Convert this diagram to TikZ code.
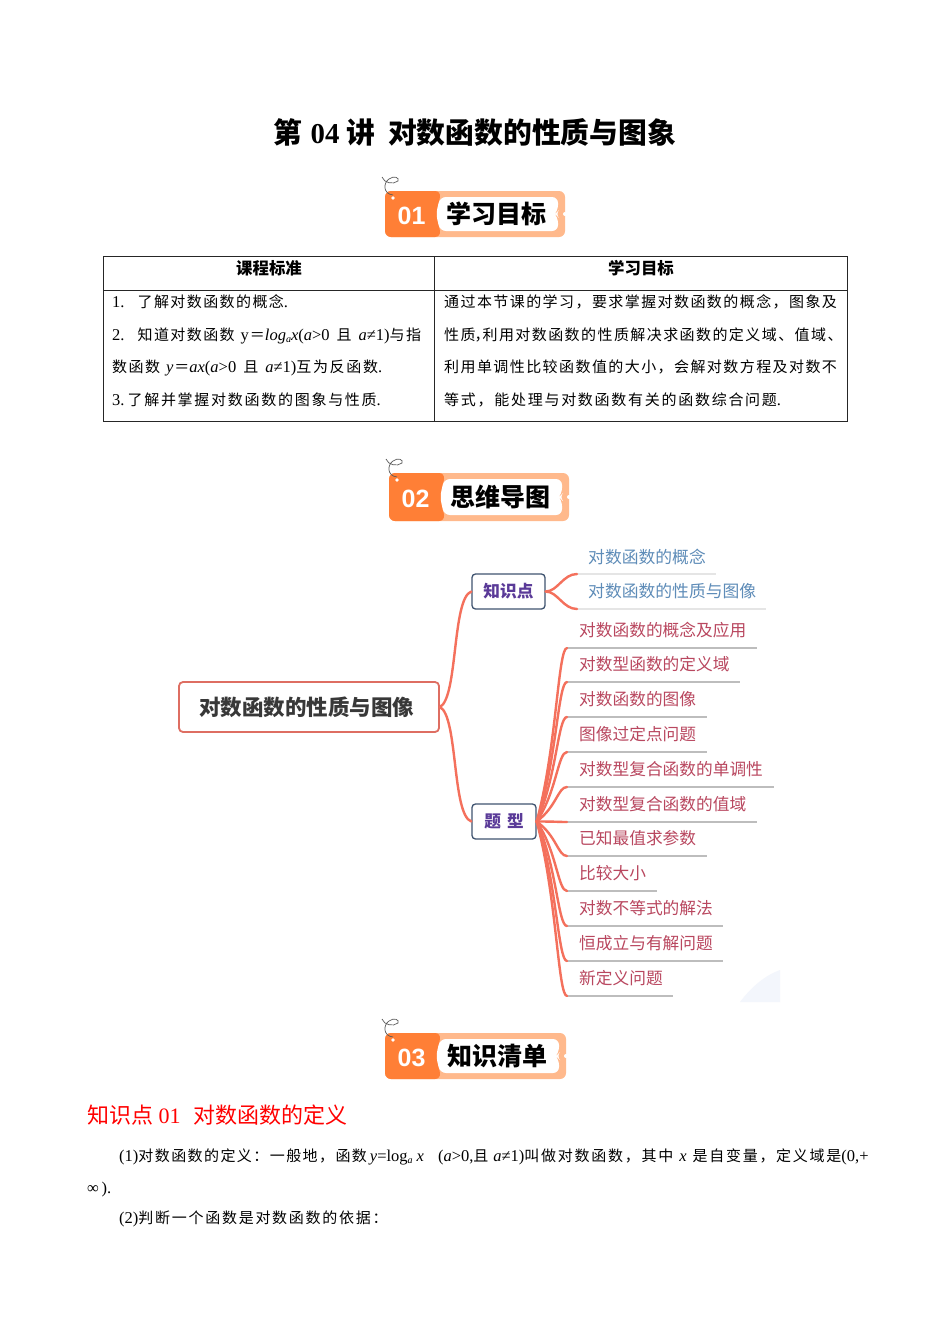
\documentclass[tikz,border=0pt]{standalone}
\usepackage{fontspec}
\setmainfont{Liberation Serif}
\newfontfamily\cjf[LetterSpace=9.5]{Noto Sans CJK SC}
\newfontfamily\cjw[LetterSpace=11.5]{Noto Sans CJK SC}
\newfontfamily\cjn{Noto Sans CJK SC}
\newfontfamily\sansb{Liberation Sans}
\usetikzlibrary{calc}
\definecolor{bandark}{HTML}{FF7F36}
\definecolor{banlight}{HTML}{FFB98C}
\definecolor{branch}{HTML}{F4705C}
\definecolor{rootline}{HTML}{DE6E62}
\definecolor{greyline}{HTML}{BDBDBD}
\definecolor{leafblue}{HTML}{5E8CB8}
\definecolor{typered}{HTML}{B9475F}
\definecolor{boxpurple}{HTML}{5A3A98}
\definecolor{boxline}{HTML}{3F5470}
\definecolor{wash}{HTML}{F3F6FC}
\newcommand{\fs}[1]{\fontsize{#1}{#1}\selectfont}
\newcommand{\cz}[1]{{\cjf\fs{15}#1}}
\newcommand{\cw}[1]{{\cjw\fs{15}#1}}
\newcommand{\sbs}[1]{\raisebox{-2pt}{\fs{10}\textit{#1}}}
\newcommand{\banner}[7]{%
  % #1 left, #2 top, #3 width, #4 height, #5 number, #6 title, #7 name
  \begin{scope}[shift={(#1,#2)}]
    \fill[banlight, rounded corners=6pt] (0,0) rectangle (#3,#4);
    \fill[bandark, rounded corners=6pt] (0,0) -- (56,0) -- (52,{0.5*#4}) -- (56,#4) -- (0,#4) -- cycle;
    \fill[white] (8,7) circle (1.8);
    \fill[white, rounded corners=6pt] (55,6) -- ({#3-7},6) -- ({#3-7},{0.5*#4-3}) -- ({#3-10},{0.5*#4}) -- ({#3-7},{0.5*#4+3}) -- ({#3-7},{#4-6}) -- (55,{#4-6}) -- (51,{0.5*#4}) -- cycle;
    \fill[white] (#3,{0.5*#4}) circle (2);
    \draw[scribble] (-3,-14) .. controls (-1,-8) and (8,-6) .. (13,-10) .. controls (15,-13) and (9,-16) .. (4,-12) .. controls (-2,-8) and (-2,3) .. (8,4);
    \node[bannum] (#7num) at (26.5,{0.5*#4+1.5}) {#5};
    \node[bantitle] (#7txt) at ({0.5*#3+21.5},{0.5*#4}) {#6};
  \end{scope}}
\tikzset{
  txt/.style={anchor=base west, inner sep=0pt, font=\fs{16.5}, text=black},
  bannum/.style={inner sep=0pt, text=white, font=\sansb\bfseries\fs{25}},
  bantitle/.style={inner sep=0pt, text=black, font=\cjn\bfseries\fs{25}},
  scribble/.style={draw=black!65, line width=0.7pt},
  tabline/.style={draw=black!85, line width=0.9pt},
  headcell/.style={inner sep=0pt, font=\cjn\bfseries\fs{16.4}},
  rootbox/.style={draw=rootline, line width=1.8pt, rounded corners=4pt, minimum width=260pt, minimum height=50pt, inner sep=0pt, text=black!78, font=\cjn\bfseries\fs{21.5}},
  catbox/.style={draw=boxline, line width=1.3pt, rounded corners=3.5pt, minimum height=35pt, inner sep=0pt, text=boxpurple, font=\cjn\bfseries\fs{16.7}},
  leafa/.style={anchor=west, inner sep=0pt, text=leafblue, font=\cjn\fs{16.8}},
  leafb/.style={anchor=west, inner sep=0pt, text=typered, font=\cjn\fs{16.7}},
  branchline/.style={draw=branch, line width=2.4pt, line cap=round},
  underline/.style={draw=greyline, line width=1.6pt},
  underlinea/.style={draw=black!10, line width=1.6pt},
}
\begin{document}
\begin{tikzpicture}[x=1pt,y=-1pt]
\useasboundingbox[fill=white] (0,0) rectangle (950,1344);

% title
\node[inner sep=0pt, font=\fs{28.8}] (title) at (475,132) {{\cjn\bfseries 第}\hspace{8pt}\textbf{04}\hspace{7pt}{\cjn\bfseries 讲}\hspace{13pt}{\cjn\bfseries 对数函数的性质与图象}};

\banner{385}{191}{180}{46}{01}{学习目标}{ba}
\banner{389}{473}{180}{48}{02}{思维导图}{bb}
\banner{385}{1033}{181}{46}{03}{知识清单}{bc}

% table
\draw[tabline] (103,256) rectangle (847,421);
\draw[tabline] (103,290) -- (847,290);
\draw[tabline] (434,256) -- (434,421);
\node[headcell] (h1) at (269,268.5) {课程标准};
\node[headcell] (h2) at (641,268.5) {学习目标};

\node[txt] (a1) at (112,307) {1.\hspace{13pt}\cz{了解对数函数的概念}.};
\node[txt] (a2) at (112,340) {2.\hspace{13pt}\cz{知道对数函数}\hspace{6pt}y\hspace{1pt}\cz{＝}\textit{log}\sbs{a}\textit{x}(\textit{a}>0\hspace{7pt}\cz{且}\hspace{7pt}\textit{a}≠1)\cz{与指}};
\node[txt] (a3) at (112,372) {\cz{数函数}\hspace{6pt}\textit{y}\hspace{1pt}\cz{＝}\textit{ax}(\textit{a}>0\hspace{7pt}\cz{且}\hspace{7pt}\textit{a}≠1)\cw{互为反函数}.};
\node[txt] (a4) at (112,405) {3.\hspace{3pt}\cw{了解并掌握对数函数的图象与性质}.};

\node[txt] (b1) at (444,307) {\cz{通过本节课的学习，要求掌握对数函数的概念，图象及}};
\node[txt] (b2) at (444,340) {\cz{性质}\hspace{-1pt}\cz{，}\hspace{-7pt}\cz{利用对数函数的性质解决求函数的定义域、}\cz{值域、}};
\node[txt] (b3) at (444,372) {\cz{利用单调性比较函数值的大小，会解对数方程及对数不}};
\node[txt] (b4) at (444,405) {\cw{等式，能处理与对数函数有关的函数综合问题}.};

% mind map
\fill[wash] (740,1002) .. controls (752,986) and (766,975) .. (780,970) -- (780,1002) -- cycle;

\node[rootbox] (root) at (309,707) {对数函数的性质与图像\hspace{5pt}\null};
\node[catbox, minimum width=73pt] (k) at (508.5,591.5) {知识点};
\node[catbox, minimum width=64pt] (t) at (504,821.5) {题\hspace{6pt}型};

\draw[branchline] (root.east) .. controls (458,698) and (452,598) .. (k.west);
\draw[branchline] (root.east) .. controls (458,716) and (452,815) .. (t.west);

% knowledge leaves
\foreach \i/\y/\xe/\lab in {1/574/716/对数函数的概念, 2/609/766/对数函数的性质与图像}{
  \node[leafa] (ka\i) at (588,\y-17.5) {\lab};
  \coordinate (kc\i) at (577,\y);
  \coordinate (kd\i) at (\xe,\y);
  \draw[underlinea] (kc\i) -- (kd\i);
  \draw[branchline] (k.east) .. controls +(12,0) and ($(kc\i)+(-14,0)$) .. (kc\i);
}

% type leaves
\foreach \i/\y/\xe/\lab in {
  1/648/757/对数函数的概念及应用,
  2/682/740/对数型函数的定义域,
  3/717/707/对数函数的图像,
  4/752/707/图像过定点问题,
  5/787/774/对数型复合函数的单调性,
  6/822/757/对数型复合函数的值域,
  7/856/707/已知最值求参数,
  8/891/657/比较大小,
  9/926/723/对数不等式的解法,
  10/961/723/恒成立与有解问题,
  11/996/673/新定义问题}{
  \node[leafb] (la\i) at (579,\y-18) {\lab};
  \coordinate (lc\i) at (567,\y);
  \coordinate (ld\i) at (\xe,\y);
  \draw[underline] (lc\i) -- (ld\i);
  \draw[branchline] (t.east) .. controls ($(t.east)+(20,{(\y-822)*0.42})$) and ($(lc\i)+(-9,0)$) .. (lc\i);
}

% section text
\node[anchor=base west, inner sep=0pt, text=red, font=\fs{22}] (sec) at (87,1123.5) {{\cjn 知识点}\hspace{5.5pt}01\hspace{12.5pt}{\cjn 对数函数的定义}};
\node[txt] (p1) at (119,1161) {(1)\cz{对数函数的定义：一般地，函数}\hspace{3pt}\textit{y}=log\sbs{a}\hspace{4pt}\textit{x}\hspace{14pt}(\textit{a}>0,\cz{且}\hspace{5pt}\textit{a}≠1)\cw{叫做对数函数，其中}\hspace{6pt}\textit{x}\hspace{6pt}\cw{是自变量，定义域是}(0,+};
\node[txt] (p2) at (87,1193) {∞\,).};
\node[txt] (p3) at (119,1223) {(2)\cw{判断一个函数是对数函数的依据：}};
\end{tikzpicture}
\end{document}
